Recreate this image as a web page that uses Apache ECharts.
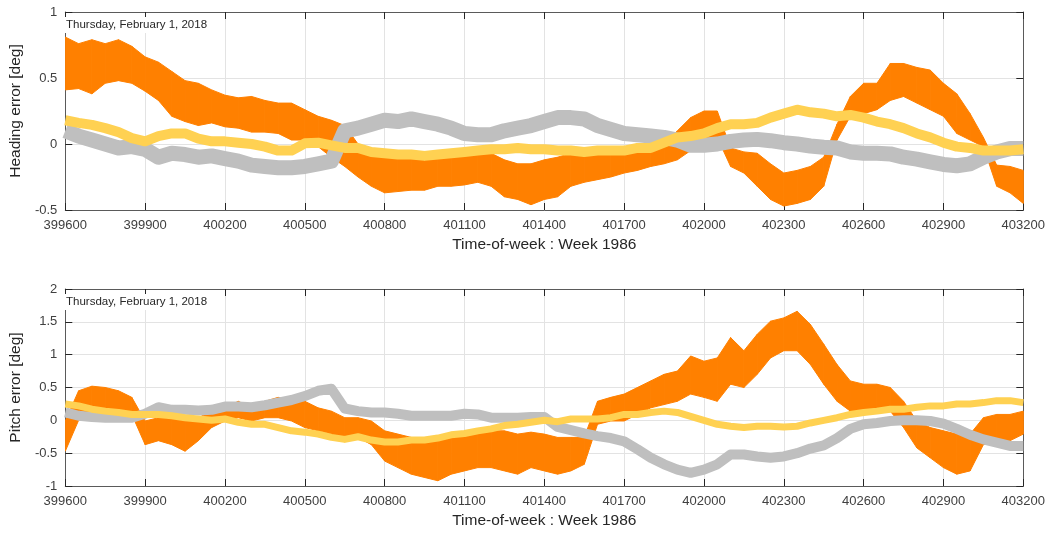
<!DOCTYPE html>
<html>
<head>
<meta charset="utf-8">
<title>Heading / pitch error</title>
<script src="https://cdn.jsdelivr.net/npm/echarts@6/dist/echarts.min.js"></script>
<style>
  html, body { margin: 0; padding: 0; background: #fff; }
  #chart { width: 1048px; height: 534px; }
</style>
</head>
<body>
<div id="chart"></div>
<script>
// time-of-week samples (s), every 50 s
const tow = [
  399600, 399650, 399700, 399750, 399800, 399850, 399900, 399950, 400000, 400050,
  400100, 400150, 400200, 400250, 400300, 400350, 400400, 400450, 400500, 400550,
  400600, 400650, 400700, 400750, 400800, 400850, 400900, 400950, 401000, 401050,
  401100, 401150, 401200, 401250, 401300, 401350, 401400, 401450, 401500, 401550,
  401600, 401650, 401700, 401750, 401800, 401850, 401900, 401950, 402000, 402050,
  402100, 402150, 402200, 402250, 402300, 402350, 402400, 402450, 402500, 402550,
  402600, 402650, 402700, 402750, 402800, 402850, 402900, 402950, 403000, 403050,
  403100, 403150, 403200
]
const xTicks = [399600, 399900, 400200, 400500, 400800, 401100, 401400, 401700, 402000, 402300, 402600, 402900, 403200]

// 航向误差 heading error [deg]
const headOrangeLo = [
  0.41, 0.42, 0.38, 0.46, 0.48, 0.46, 0.40, 0.33, 0.21, 0.17,
  0.14, 0.16, 0.13, 0.12, 0.09, 0.09, 0.08, 0.03, 0.03, -0.02,
  -0.10, -0.17, -0.25, -0.32, -0.37, -0.36, -0.35, -0.35, -0.32, -0.32,
  -0.31, -0.29, -0.32, -0.40, -0.42, -0.46, -0.42, -0.40, -0.32, -0.29,
  -0.27, -0.25, -0.22, -0.20, -0.17, -0.15, -0.12, -0.05, 0.02, 0.05,
  -0.17, -0.22, -0.32, -0.42, -0.47, -0.45, -0.42, -0.32, 0.03, 0.21,
  0.23, 0.26, 0.33, 0.36, 0.31, 0.26, 0.21, 0.08, 0.03, -0.02,
  -0.32, -0.37, -0.45
]
const headOrangeHi = [
  0.81, 0.76, 0.79, 0.76, 0.79, 0.74, 0.66, 0.62, 0.55, 0.48,
  0.46, 0.41, 0.37, 0.35, 0.36, 0.33, 0.31, 0.31, 0.26, 0.21,
  0.18, 0.14, 0.00, -0.07, -0.10, -0.10, -0.10, -0.11, -0.10, -0.10,
  -0.08, -0.08, -0.07, -0.12, -0.15, -0.15, -0.12, -0.10, -0.07, -0.05,
  -0.02, -0.02, -0.05, 0.00, -0.02, 0.00, 0.10, 0.20, 0.25, 0.25,
  -0.03, -0.06, -0.07, -0.15, -0.22, -0.20, -0.17, -0.10, 0.15, 0.36,
  0.46, 0.46, 0.61, 0.61, 0.58, 0.56, 0.46, 0.38, 0.23, 0.05,
  -0.16, -0.17, -0.20
]
const headGray = [
  0.10, 0.06, 0.03, 0.00, -0.03, -0.02, -0.04, -0.10, -0.07, -0.08,
  -0.10, -0.09, -0.11, -0.13, -0.16, -0.17, -0.18, -0.18, -0.17, -0.15,
  -0.13, 0.10, 0.12, 0.15, 0.18, 0.17, 0.19, 0.17, 0.15, 0.12,
  0.08, 0.07, 0.07, 0.10, 0.12, 0.14, 0.17, 0.20, 0.20, 0.19,
  0.14, 0.11, 0.08, 0.07, 0.06, 0.05, 0.03, -0.01, -0.01, 0.00,
  0.02, 0.03, 0.035, 0.025, 0.01, 0.00, -0.015, -0.025, -0.03, -0.06,
  -0.07, -0.07, -0.075, -0.10, -0.115, -0.135, -0.155, -0.165, -0.15, -0.10,
  -0.06, -0.035, -0.035
]
const headYellow = [
  0.18, 0.16, 0.145, 0.12, 0.09, 0.045, 0.02, 0.06, 0.08, 0.08,
  0.04, 0.02, 0.02, 0.01, 0.00, -0.02, -0.05, -0.05, 0.005, 0.01,
  -0.01, -0.03, -0.03, -0.06, -0.07, -0.08, -0.08, -0.09, -0.08, -0.07,
  -0.06, -0.05, -0.04, -0.04, -0.03, -0.04, -0.04, -0.05, -0.05, -0.06,
  -0.05, -0.05, -0.05, -0.03, -0.03, 0.01, 0.05, 0.06, 0.08, 0.12,
  0.15, 0.15, 0.16, 0.20, 0.23, 0.26, 0.24, 0.23, 0.21, 0.22,
  0.20, 0.17, 0.15, 0.12, 0.08, 0.05, 0.01, -0.02, -0.03, -0.05,
  -0.05, -0.05, -0.04
]

// 俯仰误差 pitch error [deg]
const pitchOrangeLo = [
  -0.47, 0.00, 0.09, 0.19, 0.14, 0.09, -0.37, -0.31, -0.37, -0.47,
  -0.31, -0.11, -0.01, 0.04, -0.01, 0.04, 0.04, -0.01, -0.11, -0.16,
  -0.21, -0.31, -0.26, -0.37, -0.62, -0.72, -0.82, -0.87, -0.92, -0.82,
  -0.77, -0.72, -0.72, -0.77, -0.82, -0.72, -0.77, -0.82, -0.77, -0.67,
  -0.06, -0.01, -0.01, 0.09, 0.19, 0.24, 0.29, 0.40, 0.35, 0.29,
  0.55, 0.50, 0.70, 0.95, 1.06, 1.06, 0.85, 0.55, 0.29, 0.14,
  0.14, 0.14, 0.14, -0.11, -0.42, -0.57, -0.72, -0.82, -0.77, -0.37,
  -0.31, -0.31, -0.21
]
const pitchOrangeHi = [
  -0.01, 0.45, 0.52, 0.50, 0.45, 0.35, -0.01, 0.04, 0.04, 0.04,
  0.04, 0.14, 0.19, 0.29, 0.19, 0.29, 0.35, 0.29, 0.29, 0.19,
  0.14, 0.04, 0.04, -0.01, -0.16, -0.21, -0.26, -0.31, -0.31, -0.26,
  -0.21, -0.16, -0.16, -0.16, -0.21, -0.18, -0.21, -0.26, -0.26, -0.26,
  0.29, 0.35, 0.40, 0.50, 0.60, 0.70, 0.75, 0.98, 0.90, 0.95,
  1.26, 1.06, 1.31, 1.51, 1.56, 1.66, 1.46, 1.16, 0.85, 0.60,
  0.55, 0.55, 0.50, 0.29, -0.01, -0.11, -0.16, -0.21, -0.21, 0.04,
  0.09, 0.09, 0.14
]
const pitchGray = [
  0.12, 0.07, 0.05, 0.04, 0.04, 0.04, 0.10, 0.20, 0.16, 0.16,
  0.15, 0.16, 0.21, 0.21, 0.20, 0.23, 0.27, 0.31, 0.37, 0.45,
  0.48, 0.18, 0.14, 0.12, 0.12, 0.10, 0.07, 0.07, 0.07, 0.07,
  0.10, 0.09, 0.04, 0.04, 0.04, 0.05, 0.05, -0.10, -0.15, -0.20,
  -0.24, -0.27, -0.32, -0.44, -0.57, -0.67, -0.75, -0.80, -0.75, -0.67,
  -0.52, -0.52, -0.55, -0.57, -0.55, -0.50, -0.43, -0.38, -0.27, -0.13,
  -0.06, -0.04, -0.01, 0.00, 0.00, -0.01, -0.05, -0.13, -0.22, -0.29,
  -0.34, -0.39, -0.39
]
const pitchYellow = [
  0.25, 0.22, 0.17, 0.14, 0.12, 0.09, 0.09, 0.09, 0.07, 0.04,
  0.02, 0.00, 0.02, -0.03, -0.06, -0.06, -0.11, -0.16, -0.18, -0.21,
  -0.26, -0.29, -0.25, -0.30, -0.33, -0.33, -0.30, -0.30, -0.27, -0.22,
  -0.20, -0.16, -0.13, -0.08, -0.06, -0.03, 0.00, -0.02, 0.02, 0.02,
  0.02, 0.04, 0.09, 0.09, 0.12, 0.14, 0.12, 0.06, 0.00, -0.06,
  -0.09, -0.11, -0.09, -0.09, -0.10, -0.09, -0.04, 0.00, 0.04, 0.09,
  0.12, 0.14, 0.17, 0.17, 0.20, 0.22, 0.22, 0.25, 0.25, 0.27,
  0.30, 0.30, 0.27
]

const dateNote = 'Thursday, February 1, 2018'
const xName = 'Time-of-week : Week 1986'

const ORANGE = '#FF8000'
const GRAY = '#BFBFBF'
const YELLOW = '#FFD152'
const FONT = '"Liberation Sans", Arial, Helvetica, sans-serif'

// 把上下包络拼成一段一段的四边形
const bandData = (lo, hi) => {
  const out = []
  for (let i = 0; i < tow.length - 1; i++) {
    out.push([tow[i], tow[i + 1], lo[i], hi[i], lo[i + 1], hi[i + 1]])
  }
  return out
}
const lineData = (vals) => tow.map((t, i) => [t, vals[i]])

const renderBand = (params, api) => {
  const a = api.coord([api.value(0), api.value(2)])
  const b = api.coord([api.value(1), api.value(4)])
  const c = api.coord([api.value(1), api.value(5)])
  const d = api.coord([api.value(0), api.value(3)])
  return {
    type: 'polygon',
    shape: { points: [a, b, c, d] },
    style: { fill: ORANGE, stroke: ORANGE, lineWidth: 1 }
  }
}

const grids = [
  { left: 60, right: 24, top: 12, height: 198 },
  { left: 60, right: 24, top: 289, height: 197 }
]

const baseX = (gi, pos) => ({
  type: 'value',
  gridIndex: gi,
  position: pos,
  min: 399600,
  max: 403200,
  interval: 300,
  axisLine: { show: true, onZero: false, lineStyle: { color: '#5a5a5a', width: 1 } },
  axisTick: { show: true, inside: true, length: 7, lineStyle: { color: '#262626' } },
  axisLabel: pos === 'bottom'
    ? { show: true, color: '#404040', fontSize: 13, fontFamily: FONT, margin: 9,
        customValues: xTicks, formatter: v => String(v) }
    : { show: false },
  splitLine: { show: pos === 'bottom', lineStyle: { color: '#e3e3e3', width: 1 } },
  name: pos === 'bottom' ? xName : '',
  nameLocation: 'middle',
  nameGap: 27,
  nameTextStyle: { color: '#262626', fontSize: 15.5, fontFamily: FONT }
})

const baseY = (gi, pos, min, max, name) => ({
  type: 'value',
  gridIndex: gi,
  position: pos,
  min: min,
  max: max,
  interval: 0.5,
  axisLine: { show: true, onZero: false, lineStyle: { color: '#5a5a5a', width: 1 } },
  axisTick: { show: true, inside: true, length: 7, lineStyle: { color: '#262626' } },
  axisLabel: pos === 'left'
    ? { show: true, color: '#404040', fontSize: 13, fontFamily: FONT, margin: 8 }
    : { show: false },
  splitLine: { show: pos === 'left', lineStyle: { color: '#e3e3e3', width: 1 } },
  name: pos === 'left' ? name : '',
  nameLocation: 'middle',
  nameGap: 32,
  nameTextStyle: { color: '#262626', fontSize: 15.5, fontFamily: FONT }
})

const chart = echarts.init(document.getElementById('chart'), null, { renderer: 'canvas' })

chart.setOption({
  animation: false,
  backgroundColor: '#ffffff',
  grid: grids,
  xAxis: [baseX(0, 'bottom'), baseX(0, 'top'), baseX(1, 'bottom'), baseX(1, 'top')],
  yAxis: [
    baseY(0, 'left', -0.5, 1, 'Heading error [deg]'),
    baseY(0, 'right', -0.5, 1, ''),
    baseY(1, 'left', -1, 2, 'Pitch error [deg]'),
    baseY(1, 'right', -1, 2, '')
  ],
  series: [
    {
      type: 'custom', name: 'heading-orange', xAxisIndex: 0, yAxisIndex: 0,
      renderItem: renderBand, data: bandData(headOrangeLo, headOrangeHi),
      encode: { x: [0, 1], y: [2, 3, 4, 5] }, z: 2, silent: true, clip: true
    },
    {
      type: 'line', name: 'heading-gray', xAxisIndex: 0, yAxisIndex: 0,
      data: lineData(headGray), showSymbol: false, z: 3, silent: true, clip: true,
      lineStyle: { color: GRAY, width: 15, cap: 'butt', join: 'round' }
    },
    {
      type: 'line', name: 'heading-yellow', xAxisIndex: 0, yAxisIndex: 0,
      data: lineData(headYellow), showSymbol: false, z: 4, silent: true, clip: true,
      lineStyle: { color: YELLOW, width: 10, cap: 'butt', join: 'round' }
    },
    {
      type: 'custom', name: 'pitch-orange', xAxisIndex: 2, yAxisIndex: 2,
      renderItem: renderBand, data: bandData(pitchOrangeLo, pitchOrangeHi),
      encode: { x: [0, 1], y: [2, 3, 4, 5] }, z: 2, silent: true, clip: true
    },
    {
      type: 'line', name: 'pitch-gray', xAxisIndex: 2, yAxisIndex: 2,
      data: lineData(pitchGray), showSymbol: false, z: 3, silent: true, clip: true,
      lineStyle: { color: GRAY, width: 10, cap: 'butt', join: 'round' }
    },
    {
      type: 'line', name: 'pitch-yellow', xAxisIndex: 2, yAxisIndex: 2,
      data: lineData(pitchYellow), showSymbol: false, z: 4, silent: true, clip: true,
      lineStyle: { color: YELLOW, width: 7, cap: 'butt', join: 'round' }
    }
  ],
  graphic: [
    {
      type: 'text', left: 63, top: 17, z: 100,
      style: { text: dateNote, fill: '#262626', font: '11.5px ' + FONT,
        backgroundColor: '#ffffff', padding: [2, 3, 2, 3] }
    },
    {
      type: 'text', left: 63, top: 294, z: 100,
      style: { text: dateNote, fill: '#262626', font: '11.5px ' + FONT,
        backgroundColor: '#ffffff', padding: [2, 3, 2, 3] }
    }
  ]
})
</script>
</body>
</html>
